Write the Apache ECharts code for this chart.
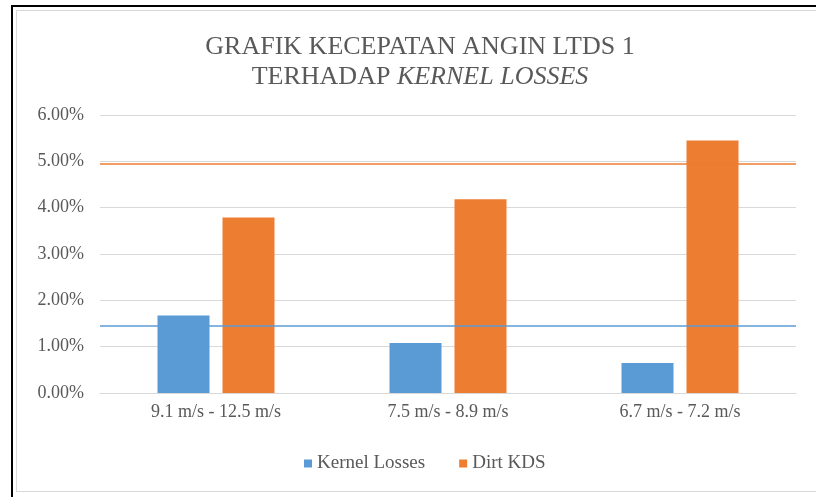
<!DOCTYPE html>
<html>
<head>
<meta charset="UTF-8">
<title></title>
<script src="https://cdn.jsdelivr.net/npm/echarts@6/dist/echarts.min.js"></script>
<style>
  body { margin: 0; background: #fff; }
  #outer { position: absolute; left: 11px; top: 5px; width: 820px; height: 500px;
           border-left: 2px solid #000; border-top: 2px solid #000; }
  #inner { position: absolute; left: 16px; top: 10px; width: 820px; height: 480px;
           border-left: 1px solid #d9d9d9; border-top: 1px solid #d9d9d9; border-bottom: 1px solid #d9d9d9; }
  #main { position: absolute; left: 0; top: 0; width: 816px; height: 497px; }
</style>
</head>
<body>
<div id="outer"></div>
<div id="inner"></div>
<div id="main"></div>
<script type="text/javascript">
  var categories = ['9.1 m/s - 12.5 m/s', '7.5 m/s - 8.9 m/s', '6.7 m/s - 7.2 m/s'];
  var kernelLosses = [1.67, 1.08, 0.65];
  var dirtKDS = [3.79, 4.18, 5.45];
  var kernelLimit = [1.45];
  var dirtLimit = [4.95];
  var yTicks = [0, 1, 2, 3, 4, 5, 6];

  var serif = 'Liberation Serif';
  var myChart = echarts.init(document.getElementById('main'));

  myChart.setOption({
    backgroundColor: 'transparent',
    animation: false,
    textStyle: { fontFamily: serif },
    title: {
      text: '{n|GRAFIK KECEPATAN ANGIN LTDS 1}\n{n|TERHADAP }{i|KERNEL LOSSES}',
      left: 415,
      textAlign: 'center',
      top: 27,
      textStyle: {
        fontWeight: 'normal',
        fontFamily: serif,
        rich: {
          n: { fontFamily: serif, fontSize: 26, fontWeight: 'normal', color: '#595959', lineHeight: 30 },
          i: { fontFamily: serif, fontSize: 26, fontWeight: 'normal', color: '#595959', fontStyle: 'italic', lineHeight: 30 }
        }
      }
    },
    legend: {
      data: ['Kernel Losses', 'Dirt KDS'],
      left: 299,
      top: 449,
      icon: 'rect',
      itemWidth: 8,
      itemHeight: 8,
      itemGap: 34,
      textStyle: { fontFamily: serif, fontSize: 19, color: '#595959' }
    },
    grid: { left: 100, right: 20, top: 115, bottom: 104 },
    xAxis: {
      type: 'category',
      data: categories,
      axisLine: { lineStyle: { color: '#d9d9d9' } },
      axisTick: { show: false },
      axisLabel: { fontFamily: serif, fontSize: 18, color: '#595959', margin: 10 }
    },
    yAxis: {
      type: 'value',
      min: yTicks[0],
      max: yTicks[yTicks.length - 1],
      interval: 1,
      axisLine: { show: false },
      axisTick: { show: false },
      splitLine: { lineStyle: { color: '#d9d9d9', width: 1 } },
      axisLabel: {
        fontFamily: serif, fontSize: 18, color: '#595959', margin: 16,
        formatter: function (v) { return v.toFixed(2) + '%'; }
      }
    },
    series: [{
      name: 'Kernel Losses',
      type: 'bar',
      data: kernelLosses,
      barWidth: 52,
      barGap: '25%',
      itemStyle: { color: '#5b9bd5' },
      markLine: {
        silent: true,
        symbol: 'none',
        label: { show: false },
        lineStyle: { color: '#5b9bd5', type: 'solid', width: 1.5 },
        data: kernelLimit.map(function (v) { return { yAxis: v }; })
      }
    }, {
      name: 'Dirt KDS',
      type: 'bar',
      data: dirtKDS,
      barWidth: 52,
      itemStyle: { color: '#ed7d31' },
      markLine: {
        silent: true,
        symbol: 'none',
        label: { show: false },
        lineStyle: { color: '#ed7d31', type: 'solid', width: 1.5 },
        data: dirtLimit.map(function (v) { return { yAxis: v }; })
      }
    }]
  });
</script>
</body>
</html>
